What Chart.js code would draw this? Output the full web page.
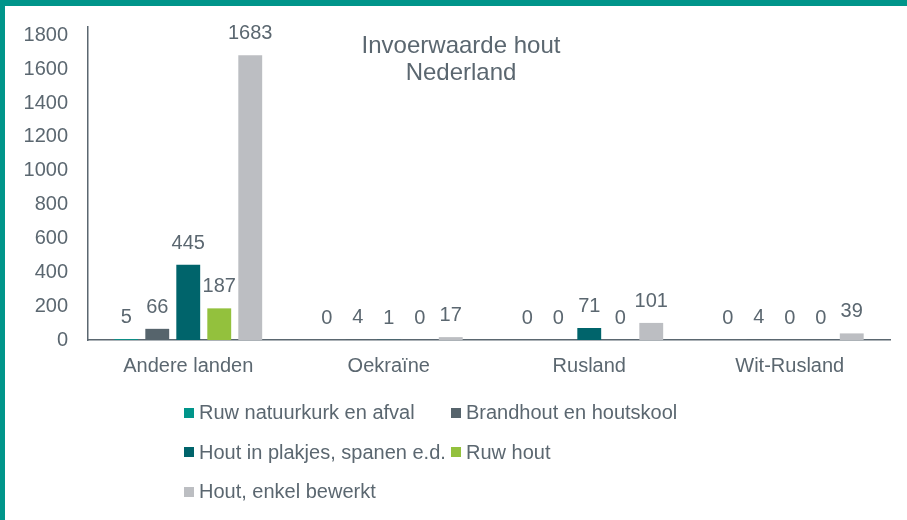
<!DOCTYPE html>
<html>
<head>
<meta charset="utf-8">
<script src="https://cdn.jsdelivr.net/npm/chart.js@4.4.1/dist/chart.umd.min.js"></script>
<style>
  html, body { margin: 0; padding: 0; background: #fff; }
  body { width: 907px; height: 520px; position: relative; overflow: hidden;
         font-family: 'Liberation Sans', Arial, sans-serif; color: #5B6770; }
  .frame { position: absolute; left: 0; top: 0; width: 902px; height: 514px;
           border-top: 6px solid #00958A; border-left: 5px solid #00958A; }
  .chartBox { position: absolute; left: 5px; top: 6px; width: 902px; height: 400px; }
  #legend { position: absolute; left: 184px; top: 393px; display: grid;
            grid-template-columns: 267px auto; row-gap: 0; }
  .item { display: flex; align-items: center; height: 39.5px; font-size: 20px; white-space: nowrap; }
  .swatch { width: 10px; height: 10px; margin-right: 5px; flex: none; }
</style>
</head>
<body>
<div class="frame"></div>
<div class="chartBox"><canvas id="woodChart"></canvas></div>
<div id="legend"></div>
<script>
const countries = ['Andere landen', 'Oekraïne', 'Rusland', 'Wit-Rusland'];
const seriesNames = ['Ruw natuurkurk en afval', 'Brandhout en houtskool', 'Hout in plakjes, spanen e.d.', 'Ruw hout', 'Hout, enkel bewerkt'];
const ruwNatuurkurk = [5, 0, 0, 0];
const brandhout = [66, 4, 0, 4];
const houtPlakjes = [445, 1, 71, 0];
const ruwHout = [187, 0, 0, 0];
const houtBewerkt = [1683, 17, 101, 39];
const yTicks = [0, 200, 400, 600, 800, 1000, 1200, 1400, 1600, 1800];
const seriesColors = ['#00958A', '#56646C', '#00646B', '#93C13D', '#BCBEC2'];
const textColor = '#5B6770';
const fontFamily = "'Liberation Sans', Arial, sans-serif";

const seriesValues = [ruwNatuurkurk, brandhout, houtPlakjes, ruwHout, houtBewerkt];

// waarden boven de staven
const valueLabels = {
    id: 'valueLabels',
    afterDatasetsDraw(chart) {
        const ctx = chart.ctx;
        ctx.save();
        ctx.font = '20px ' + fontFamily;
        ctx.fillStyle = textColor;
        ctx.textAlign = 'center';
        ctx.textBaseline = 'alphabetic';
        chart.data.datasets.forEach((ds, i) => {
            chart.getDatasetMeta(i).data.forEach((bar, j) => {
                ctx.fillText(String(ds.data[j]), bar.x, bar.y - 16);
            });
        });
        ctx.restore();
    }
};

// titel in het plotvlak
const innerTitle = {
    id: 'innerTitle',
    afterDraw(chart) {
        const ctx = chart.ctx;
        ctx.save();
        ctx.font = '24px ' + fontFamily;
        ctx.fillStyle = textColor;
        ctx.textAlign = 'center';
        ctx.fillText('Invoerwaarde hout', 456, 47);
        ctx.fillText('Nederland', 456, 74);
        ctx.restore();
    }
};

// geen extra ruimte voor labels aan de randen
function noEdgePadding(scale) {
    scale.paddingLeft = 0;
    scale.paddingRight = 0;
    scale.paddingTop = 0;
    scale.paddingBottom = 0;
}

window.onload = function() {
    const ctx = document.getElementById('woodChart').getContext('2d');

    const chart = new Chart(ctx, {
        type: 'bar',
        data: {
            labels: countries,
            datasets: seriesNames.map((name, i) => ({
                label: name,
                data: seriesValues[i],
                backgroundColor: seriesColors[i],
                categoryPercentage: 0.773,
                barPercentage: 0.77
            }))
        },
        options: {
            responsive: true,
            maintainAspectRatio: false,
            animation: false,
            layout: { padding: { left: 18, right: 17, top: 21, bottom: 22 } },
            plugins: {
                legend: { display: false },
                tooltip: { enabled: false }
            },
            scales: {
                x: {
                    afterFit: noEdgePadding,
                    grid: { display: false },
                    border: { display: true, color: textColor, width: 1.5 },
                    ticks: { color: textColor, font: { family: fontFamily, size: 20 }, padding: 6 }
                },
                y: {
                    min: 0,
                    max: 1850,
                    afterBuildTicks(axis) {
                        axis.ticks = yTicks.map(v => ({ value: v }));
                    },
                    afterFit(scale) {
                        noEdgePadding(scale);
                        scale.width = 65;
                    },
                    grid: { display: false, drawTicks: false },
                    border: { display: true, color: textColor, width: 1.5 },
                    ticks: {
                        color: textColor,
                        font: { family: fontFamily, size: 20 },
                        padding: 20,
                        callback: v => String(v)
                    }
                }
            }
        },
        plugins: [valueLabels, innerTitle]
    });

    const legend = document.getElementById('legend');
    chart.data.datasets.forEach(ds => {
        const item = document.createElement('div');
        item.className = 'item';
        item.innerHTML = '<span class="swatch" style="background:' + ds.backgroundColor + '"></span>' + ds.label;
        legend.appendChild(item);
    });
};
</script>
</body>
</html>
